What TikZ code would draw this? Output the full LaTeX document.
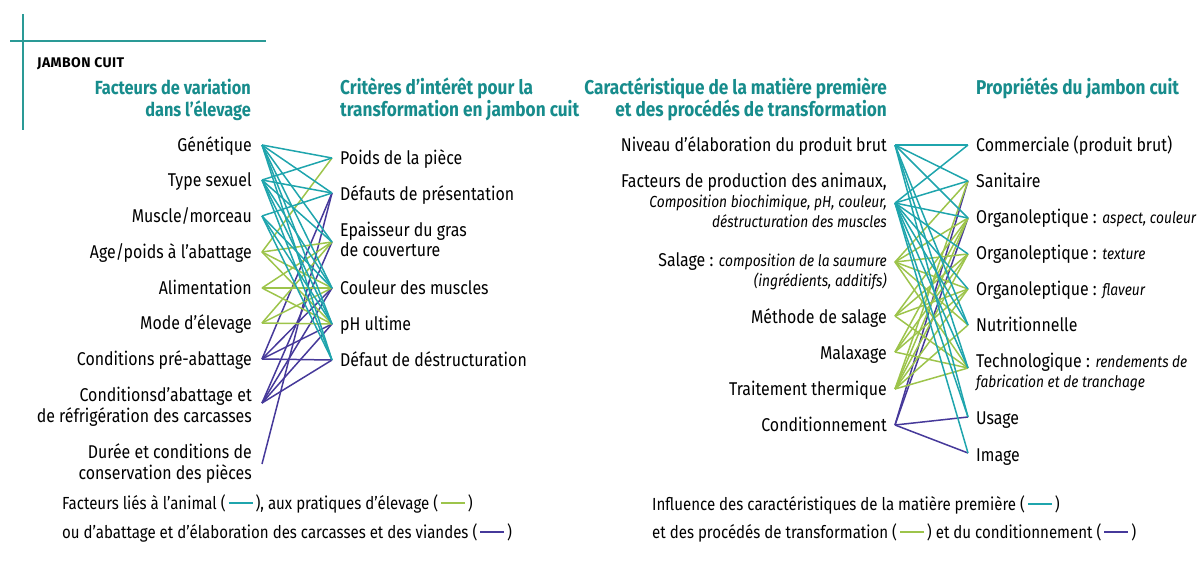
\documentclass[tikz,border=0pt]{standalone}
\usepackage{fontspec}
\setmainfont{Fira Sans}[FakeStretch=0.86]
\newfontfamily\titlefont{Fira Sans}[LetterSpace=3]
\definecolor{hdr}{HTML}{178C8C}
\definecolor{cteal}{HTML}{1FA5AD}
\definecolor{cgreen}{HTML}{9DC44B}
\definecolor{cpurple}{HTML}{46399A}
\definecolor{rulec}{HTML}{2A9A96}
\newcommand{\smp}[1]{\,\textcolor{#1}{\rule[5pt]{24pt}{2pt}}\,}
\newcommand{\itl}[1]{{\fontsize{16}{19}\selectfont\itshape #1}}
\begin{document}
\begin{tikzpicture}[x=1pt,y=-1pt,
  txt/.style={inner sep=0pt, font=\fontsize{18.5}{21}\selectfont},
  le/.style={txt, anchor=base east},
  ri/.style={txt, anchor=base west},
  it/.style={inner sep=0pt, font=\fontsize{16}{19}\selectfont\itshape},
  hd/.style={inner sep=0pt, font=\fontsize{20}{24}\selectfont\bfseries, text=hdr},
  hdl/.style={hd, font=\fontsize{19}{22}\selectfont\bfseries},
  lg/.style={inner sep=0pt, anchor=base west, font=\fontsize{17.5}{21}\selectfont},
  lk/.style={line width=1.5pt},
  frame/.style={line width=1.4pt, draw=rulec}]
\useasboundingbox (0,0) rectangle (1203,565);

% frame lines
\coordinate (fh1) at (10,41); \coordinate (fh2) at (266,41);
\coordinate (fv1) at (23,14); \coordinate (fv2) at (23,130);
\draw[frame] (fh1) -- (fh2);
\draw[frame] (fv1) -- (fv2);

\node[inner sep=0pt, anchor=base west, font=\fontsize{14}{16}\titlefont\bfseries] (title) at (37,67) {JAMBON CUIT};

% headers
\node[hdl, anchor=base east] (h1a) at (251,94) {Facteurs de variation};
\node[hdl, anchor=base east] (h1b) at (251,116) {dans l’élevage};
\node[hd, anchor=base west] (h2a) at (340,94) {Critères d’intérêt pour la};
\node[hd, anchor=base west] (h2b) at (340,116) {transformation en jambon cuit};
\node[hd, anchor=base east] (h3a) at (887,94) {Caractéristique de la matière première};
\node[hd, anchor=base east] (h3b) at (887,116) {et des procédés de transformation};
\node[hd, anchor=base west] (h4a) at (976,94) {Propriétés du jambon cuit};

% left column
\node[le] (t1) at (252,151) {Génétique};
\node[le] (t2) at (252,186) {Type sexuel};
\node[le] (t3) at (252,222) {Muscle/morceau};
\node[le] (t4) at (252,258) {Age/poids à l’abattage};
\node[le] (t5) at (252,294) {Alimentation};
\node[le] (t6) at (252,329) {Mode d’élevage};
\node[le] (t7) at (252,365) {Conditions pré-abattage};
\node[le] (t8a) at (252,401) {Conditionsd’abattage et};
\node[le] (t8b) at (252,422) {de réfrigération des carcasses};
\node[le] (t9a) at (252,458) {Durée et conditions de};
\node[le] (t9b) at (252,479) {conservation des pièces};

% middle column
\node[ri] (m1) at (340,164) {Poids de la pièce};
\node[ri] (m2) at (340,200) {Défauts de présentation};
\node[ri] (m3a) at (340,236) {Epaisseur du gras};
\node[ri] (m3b) at (340,256) {de couverture};
\node[ri] (m4) at (340,294) {Couleur des muscles};
\node[ri] (m5) at (340,330) {pH ultime};
\node[ri] (m6) at (340,366) {Défaut de déstructuration};

% right-left column
\node[le] (s1) at (887,151) {Niveau d’élaboration du produit brut};
\node[le] (s2a) at (887,187) {Facteurs de production des animaux,};
\node[it, anchor=base east] (s2b) at (887,207) {Composition biochimique, pH, couleur,};
\node[it, anchor=base east] (s2c) at (887,227) {déstructuration des muscles};
\node[le] (s3a) at (887,266) {Salage : \itl{composition de la saumure}};
\node[it, anchor=base east] (s3b) at (887,286) {(ingrédients, additifs)};
\node[le] (s4) at (887,323) {Méthode de salage};
\node[le] (s5) at (887,359) {Malaxage};
\node[le] (s6) at (887,395) {Traitement thermique};
\node[le] (s7) at (887,431) {Conditionnement};

% right column
\node[ri] (r1) at (976,151) {Commerciale (produit brut)};
\node[ri] (r2) at (976,187) {Sanitaire};
\node[ri] (r3) at (976,223) {Organoleptique : \itl{aspect, couleur}};
\node[ri] (r4) at (976,259) {Organoleptique : \itl{texture}};
\node[ri] (r5) at (976,295) {Organoleptique : \itl{flaveur}};
\node[ri] (r6) at (976,331) {Nutritionnelle};
\node[ri] (r7a) at (976,367) {Technologique : \itl{rendements de}};
\node[it, anchor=base west] (r7b) at (976,387) {fabrication et de tranchage};
\node[ri] (r8) at (976,424) {Usage};
\node[ri] (r9) at (976,461) {Image};

% legends
\node[lg] (lg1a) at (62,509) {Facteurs liés à l’animal (\smp{cteal}), aux pratiques d’élevage (\smp{cgreen})};
\node[lg] (lg1b) at (62,538) {ou d’abattage et d’élaboration des carcasses et des viandes (\smp{cpurple})};
\node[lg] (lg2a) at (652,510) {Influence des caractéristiques de la matière première (\smp{cteal})};
\node[lg] (lg2b) at (652,538) {et des procédés de transformation (\smp{cgreen}) et du conditionnement (\smp{cpurple})};

% anchor points left section
\foreach \n/\y in {1/145,2/180,3/216,4/252,5/288,6/323,7/359,8/403,9/464}
  \coordinate (L\n) at (262,\y);
\foreach \n/\y in {1/158,2/193,3/242,4/288,5/324,6/360}
  \coordinate (R\n) at (332,\y);
% anchor points right section
\foreach \n/\y in {1/145,2/203,3/262,4/316,5/352,6/389,7/425}
  \coordinate (S\n) at (895,\y);
\foreach \n/\y in {1/145,2/181,3/218,4/254,5/289,6/325,7/368,8/417,9/453}
  \coordinate (T\n) at (968,\y);

% left links
\foreach \a/\b in {7/2,7/4,7/5,7/6,8/3,8/4,8/5,8/6,9/2}
  \draw[lk, cpurple] (L\a) -- (R\b);
\foreach \a/\b in {4/1,4/3,4/4,4/5,5/3,5/4,5/5,6/3,6/4,6/5}
  \draw[lk, cgreen] (L\a) -- (R\b);
\foreach \a/\b in {1/1,1/2,1/3,1/4,1/5,1/6,2/1,2/2,2/3,2/4,2/5,2/6,3/2,3/4,3/5,3/6}
  \draw[lk, cteal] (L\a) -- (R\b);

% right links
\foreach \b in {2,3,8,9}
  \draw[lk, cpurple] (S7) -- (T\b);
\foreach \a/\b in {3/2,3/3,3/4,3/5,3/6,3/7,4/3,4/4,4/5,4/7,5/3,5/4,5/5,5/7,6/2,6/3,6/4,6/5,6/6,6/7}
  \draw[lk, cgreen] (S\a) -- (T\b);
\foreach \a/\b in {1/1,1/2,1/3,1/6,1/7,1/8,2/1,2/2,2/3,2/4,2/5,2/6,2/7,2/8,2/9}
  \draw[lk, cteal] (S\a) -- (T\b);
\end{tikzpicture}
\end{document}
